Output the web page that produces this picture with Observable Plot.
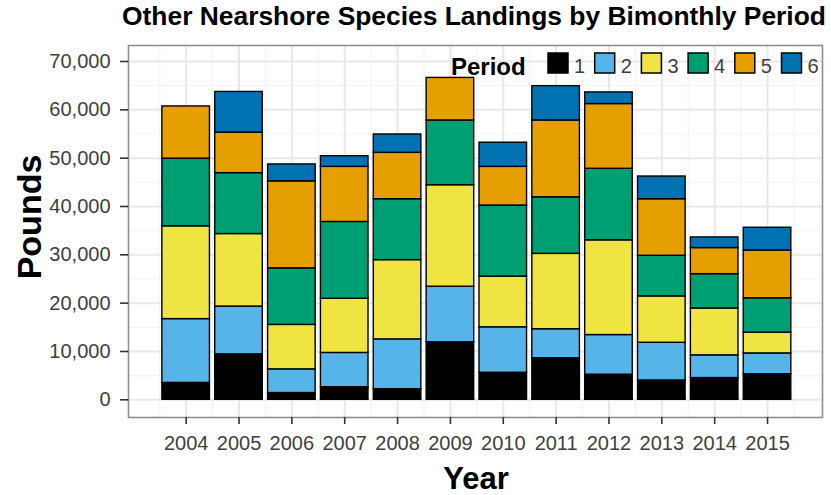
<!DOCTYPE html>
<html><head><meta charset="utf-8">
<script src="https://cdn.jsdelivr.net/npm/d3@7"></script>
<script src="https://cdn.jsdelivr.net/npm/@observablehq/plot@0.6"></script>
<style>body{margin:0;background:#fff} svg{display:block}</style>
</head><body><div id="chart"></div>
<script>
const years = [2004, 2005, 2006, 2007, 2008, 2009, 2010, 2011, 2012, 2013, 2014, 2015];
const periods = ["1", "2", "3", "4", "5", "6"];
const colors = ["#000000", "#56B4E9", "#F0E442", "#009E73", "#E69F00", "#0072B2"];
const period1 = [3500, 9400, 1400, 2600, 2200, 11900, 5600, 8600, 5200, 4000, 4500, 5300];
const period2 = [13200, 9900, 4900, 7100, 10300, 11500, 9400, 6000, 8200, 7800, 4700, 4300];
const period3 = [19200, 15000, 9200, 11200, 16400, 21000, 10500, 15600, 19600, 9600, 9700, 4300];
const period4 = [14000, 12600, 11700, 15900, 12600, 13400, 14700, 11700, 14800, 8400, 7100, 7100];
const period5 = [10800, 8400, 18000, 11400, 9600, 8800, 8000, 15900, 13400, 11700, 5400, 9900];
const period6 = [0, 8400, 3500, 2200, 3800, 0, 5000, 7100, 2400, 4700, 2200, 4700];
const yTicks = [0, 10000, 20000, 30000, 40000, 50000, 60000, 70000];
const yMinor = [5000, 15000, 25000, 35000, 45000, 55000, 65000];
const xMinor = years.map(y => y - 0.5).concat([years[years.length - 1] + 0.5]);

const series = [period1, period2, period3, period4, period5, period6];
const rows = [];
years.forEach((yr, i) => {
  let base = 0;
  series.forEach((s, p) => {
    const v = s[i];
    if (v > 0) rows.push({year: yr, period: periods[p], value: v, y1: base, y2: base + v});
    base += v;
  });
});

const font = "'Liberation Sans', Arial, sans-serif";
const chart = Plot.plot({
  width: 831, height: 495,
  marginTop: 45, marginLeft: 128, marginRight: 9, marginBottom: 78,
  style: {fontFamily: font, fontSize: "20px", background: "#fff", overflow: "visible"},
  x: {domain: [2002.909, 2016.04], axis: null},
  y: {domain: [-3660, 73310], axis: null},
  color: {domain: periods, range: colors},
  marks: [
    Plot.ruleY(yMinor, {stroke: "#F4F4F4", strokeWidth: 1.2}),
    Plot.ruleX(xMinor, {stroke: "#F4F4F4", strokeWidth: 1.2}),
    Plot.ruleY(yTicks, {stroke: "#E8E8E8", strokeWidth: 2}),
    Plot.ruleX(years, {stroke: "#E8E8E8", strokeWidth: 2}),
    Plot.rect(rows, {x1: d => d.year - 0.45, x2: d => d.year + 0.45, y1: "y1", y2: "y2", fill: "period", stroke: "#000", strokeWidth: 1.4}),
    Plot.frame({stroke: "#8f8f8f", strokeWidth: 1.6}),
    Plot.axisY(yTicks, {tickSize: 8, tickPadding: 10, tickFormat: d3.format(","), fontSize: 20, fill: "#404040", stroke: "#333", strokeWidth: 1.6, label: null}),
    Plot.axisX(years, {tickSize: 7, tickPadding: 11, tickFormat: d => String(d), fontSize: 20, fill: "#404040", stroke: "#333", strokeWidth: 1.6, label: null})
  ]
});
document.getElementById("chart").appendChild(chart);

const svg = d3.select(chart);
svg.append("text").attr("x", 474).attr("y", 25).attr("text-anchor", "middle")
  .attr("font-family", font).attr("font-weight", "bold").attr("font-size", 26.4).attr("fill", "#000")
  .text("Other Nearshore Species Landings by Bimonthly Period");
svg.append("text").attr("x", 476).attr("y", 489).attr("text-anchor", "middle")
  .attr("font-family", font).attr("font-weight", "bold").attr("font-size", 31).attr("fill", "#000")
  .text("Year");
svg.append("text").attr("transform", "translate(41,217) rotate(-90)").attr("text-anchor", "middle")
  .attr("font-family", font).attr("font-weight", "bold").attr("font-size", 34).attr("fill", "#000")
  .text("Pounds");

const leg = svg.append("g").attr("text-anchor", "start");
leg.append("text").attr("x", 451).attr("y", 75).attr("text-anchor", "start").attr("font-family", font).attr("font-weight", "bold")
  .attr("font-size", 24).attr("fill", "#000").text("Period");
periods.forEach((p, i) => {
  const x0 = 548 + i * 46.7;
  leg.append("rect").attr("x", x0).attr("y", 53).attr("width", 20).attr("height", 20)
    .attr("fill", colors[i]).attr("stroke", "#000").attr("stroke-width", 1.5);
  leg.append("text").attr("x", x0 + 26).attr("y", 73).attr("text-anchor", "start").attr("font-family", font)
    .attr("font-size", 20).attr("fill", "#404040").text(p);
});
</script>
</body></html>
